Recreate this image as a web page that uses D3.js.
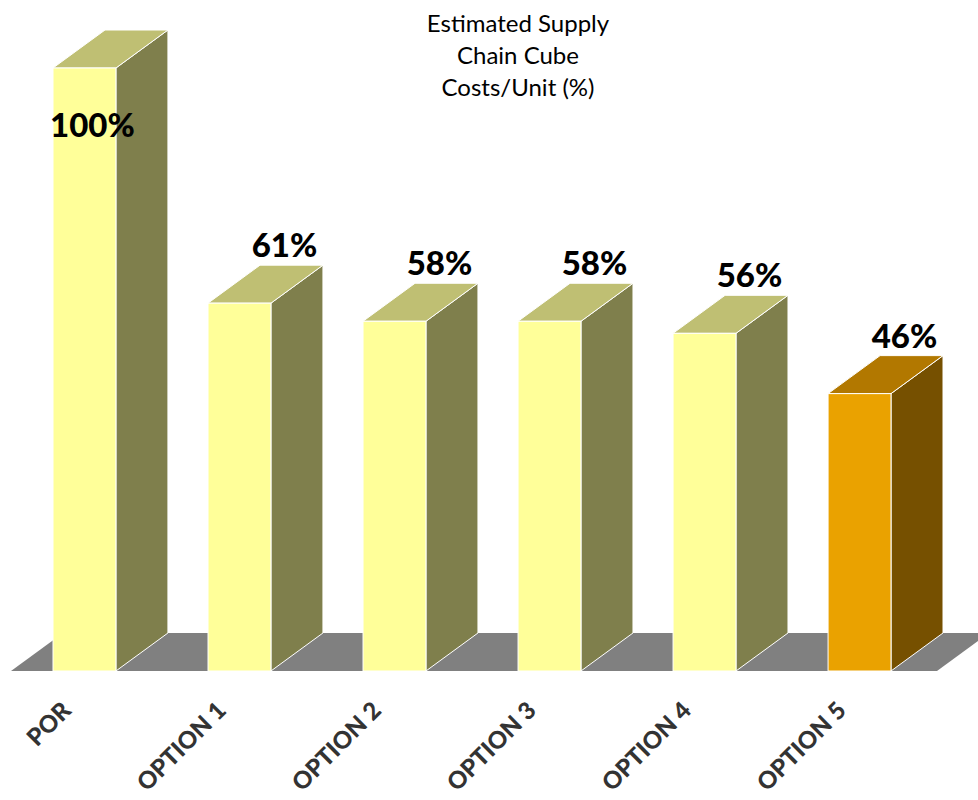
<!DOCTYPE html>
<html>
<head>
<meta charset="utf-8">
<script src="https://cdn.jsdelivr.net/npm/d3@7"></script>
<style>
  html, body { margin: 0; padding: 0; background: #fff; }
  svg { display: block; }
</style>
</head>
<body>
<svg id="chart" width="978" height="800"></svg>
<script>
// Chart data
const categories = ["POR", "OPTION 1", "OPTION 2", "OPTION 3", "OPTION 4", "OPTION 5"];
const values = [100, 61, 58, 58, 56, 46];
const valueLabels = ["100%", "61%", "58%", "58%", "56%", "46%"];
const highlighted = ["OPTION 5"];
const titleLines = ["Estimated Supply", "Chain Cube", "Costs/Unit (%)"];

const svg = d3.select("#chart");

// 3D extrusion offset for bars and floor
const depthX = 52, depthY = 38;

const x = d3.scaleBand()
  .domain(categories)
  .range([53, 891])
  .paddingInner(0.594)
  .paddingOuter(0);

const y = d3.scaleLinear().domain([0, 100]).range([671, 68]);

const palette = {
  normal:    { front: "#FFFF99", side: "#7F7F4C", top: "#BFBF73" },
  highlight: { front: "#EAA200", side: "#765000", top: "#B27800" }
};

// Title
const title = svg.append("text")
  .attr("x", 518)
  .attr("y", 32)
  .attr("text-anchor", "middle")
  .attr("font-family", "Lato, 'Open Sans', sans-serif")
  .attr("font-size", 24)
  .attr("fill", "#000");
title.selectAll("tspan")
  .data(titleLines)
  .join("tspan")
  .attr("x", 518)
  .attr("dy", (d, i) => i === 0 ? 0 : 32)
  .text(d => d);

// Floor
const floorY = y(0);
const floorL = x.range()[0] - 42;
const floorR = x.range()[1] + 46;
svg.append("path")
  .attr("d", `M${floorL},${floorY} L${floorL + depthX},${floorY - depthY} L${floorR + depthX},${floorY - depthY} L${floorR},${floorY} Z`)
  .attr("fill", "#808080");

// Bars
const bars = svg.append("g").selectAll("g")
  .data(categories.map((c, i) => ({ cat: c, value: values[i], label: valueLabels[i] })))
  .join("g")
  .each(function(d) {
    const g = d3.select(this);
    const col = highlighted.includes(d.cat) ? palette.highlight : palette.normal;
    const x0 = x(d.cat), x1 = x0 + x.bandwidth();
    const yt = y(d.value), yb = y(0);
    // side face
    g.append("path")
      .attr("d", `M${x1},${yb} L${x1 + depthX},${yb - depthY} L${x1 + depthX},${yt - depthY} L${x1},${yt} Z`)
      .attr("fill", col.side)
      .attr("stroke", "#fff").attr("stroke-width", 1).attr("stroke-linejoin", "round");
    // top face
    g.append("path")
      .attr("d", `M${x0},${yt} L${x0 + depthX},${yt - depthY} L${x1 + depthX},${yt - depthY} L${x1},${yt} Z`)
      .attr("fill", col.top)
      .attr("stroke", "#fff").attr("stroke-width", 1).attr("stroke-linejoin", "round");
    // front face
    g.append("rect")
      .attr("x", x0).attr("y", yt)
      .attr("width", x1 - x0).attr("height", yb - yt)
      .attr("fill", col.front)
      .attr("stroke", "#fff").attr("stroke-width", 1);
  });

// Value labels: above the bar top, or inside the front face when there is no room
svg.append("g").selectAll("text")
  .data(categories.map((c, i) => ({ cat: c, value: values[i], label: valueLabels[i] })))
  .join("text")
  .each(function(d) {
    const cx = x(d.cat) + x.bandwidth() / 2;
    const above = y(d.value) - depthY - 8;
    const inside = above < 110;
    d3.select(this)
      .attr("x", inside ? cx + 8 : cx + 45)
      .attr("y", inside ? y(d.value) + 69 : above);
  })
  .attr("text-anchor", "middle")
  .attr("font-family", "Lato, 'Open Sans', sans-serif")
  .attr("font-weight", 900)
  .attr("font-size", 33)
  .attr("fill", "#000")
  .text(d => d.label);

// Category labels, rotated
svg.append("g").selectAll("text")
  .data(categories)
  .join("text")
  .attr("transform", d => `translate(${x(d) + x.bandwidth() / 2 - 12},${712}) rotate(-45)`)
  .attr("text-anchor", "end")
  .attr("font-family", "Lato, 'Open Sans', sans-serif")
  .attr("font-weight", 900)
  .attr("font-size", 24)
  .attr("fill", "#333")
  .text(d => d);
</script>
</body>
</html>
